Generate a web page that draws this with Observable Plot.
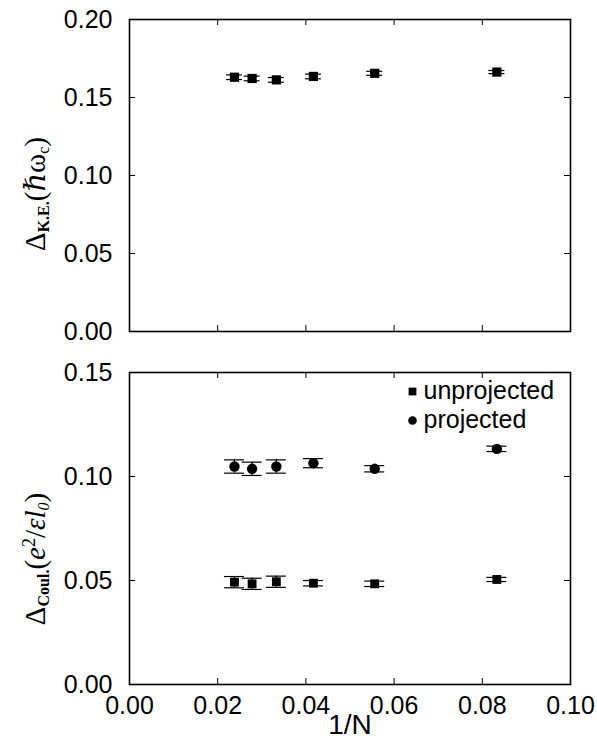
<!DOCTYPE html>
<html><head><meta charset="utf-8">
<script src="https://cdn.jsdelivr.net/npm/d3@7"></script>
<script src="https://cdn.jsdelivr.net/npm/@observablehq/plot@0.6"></script>
<style>
body{margin:0;background:#fff;}
#chart{width:597px;}
#chart svg{display:block;}
</style>
</head><body><div id="chart"></div>
<script>
// 1/N for N = 42, 36, 30, 24, 18, 12
const invN = [0.0238, 0.0278, 0.0333, 0.0417, 0.0556, 0.0833];
const keGap = [0.1630, 0.1622, 0.1613, 0.1635, 0.1655, 0.1663];
const keErr = [0.0015, 0.0015, 0.0015, 0.0015, 0.0013, 0.0010];
const projGap = [0.1048, 0.1037, 0.1048, 0.1064, 0.1037, 0.1133];
const projErr = [0.0032, 0.0032, 0.0032, 0.0022, 0.0015, 0.0013];
const unprojGap = [0.0492, 0.0484, 0.0494, 0.0487, 0.0484, 0.0505];
const unprojErr = [0.0027, 0.0027, 0.0027, 0.0013, 0.0013, 0.0010];
const xTicks = [0, 0.02, 0.04, 0.06, 0.08, 0.10];
const yTicksTop = [0, 0.05, 0.10, 0.15, 0.20];
const yTicksBottom = [0, 0.05, 0.10, 0.15];
const legendLabels = ["unprojected", "projected"];

const rows = (ys, es) => invN.map((x, i) => ({x, y: ys[i], e: es[i]}));
const keData = rows(keGap, keErr);
const projData = rows(projGap, projErr);
const unprojData = rows(unprojGap, unprojErr);

const W = 597, ML = 129, MR = 27;
const pw = W - ML - MR;
const fmt = d3.format(".2f");
const sans = "'Liberation Sans', Arial, Helvetica, sans-serif";
const tickFont = 25;

function boxMarks(ph, yt) {
  return [
    Plot.ruleX(xTicks, {insetTop: ph - 6, stroke: "#000"}),
    Plot.ruleX(xTicks, {insetBottom: ph - 6, stroke: "#000"}),
    Plot.ruleY(yt, {insetRight: pw - 6, stroke: "#000"}),
    Plot.ruleY(yt, {insetLeft: pw - 6, stroke: "#000"}),
    Plot.frame({stroke: "#000", strokeWidth: 1.6})
  ];
}
function errMarks(data, cap) {
  return [
    Plot.ruleX(data, {x: "x", y1: d => d.y - d.e, y2: d => d.y + d.e, stroke: "#000", strokeWidth: 1.2}),
    Plot.ruleY(data, {x1: "x", x2: "x", y: d => d.y + d.e, insetLeft: -cap, insetRight: -cap, stroke: "#000", strokeWidth: 1.2}),
    Plot.ruleY(data, {x1: "x", x2: "x", y: d => d.y - d.e, insetLeft: -cap, insetRight: -cap, stroke: "#000", strokeWidth: 1.2})
  ];
}

// top panel
const topH = 345, topMT = 19, topMB = 14;
const topPlot = Plot.plot({
  width: W, height: topH,
  marginLeft: ML, marginRight: MR, marginTop: topMT, marginBottom: topMB,
  style: {fontFamily: sans, background: "#fff", color: "#000"},
  x: {domain: [0, 0.10], axis: null},
  y: {domain: [0, 0.20]},
  marks: [
    ...boxMarks(topH - topMT - topMB, yTicksTop),
    Plot.axisY(yTicksTop, {tickSize: 0, tickPadding: 17, tickFormat: fmt, fontSize: tickFont, label: null}),
    ...errMarks(keData, 8),
    Plot.dot(keData, {x: "x", y: "y", symbol: "square", r: 5.2, fill: "#000"})
  ]
});

// bottom panel
const botH = 399, botMT = 27, botMB = 60;
const botPlot = Plot.plot({
  width: W, height: botH,
  marginLeft: ML, marginRight: MR, marginTop: botMT, marginBottom: botMB,
  style: {fontFamily: sans, background: "#fff", color: "#000"},
  x: {domain: [0, 0.10]},
  y: {domain: [0, 0.15]},
  marks: [
    ...boxMarks(botH - botMT - botMB, yTicksBottom),
    Plot.axisY(yTicksBottom, {tickSize: 0, tickPadding: 17, tickFormat: fmt, fontSize: tickFont, label: null}),
    Plot.axisX(xTicks, {tickSize: 0, tickPadding: 12, tickFormat: fmt, fontSize: tickFont, label: null}),
    Plot.text(["1/N"], {frameAnchor: "bottom", lineAnchor: "top", dy: 30, fontSize: 28, text: d => d}),
    ...errMarks(projData, 10),
    ...errMarks(unprojData, 10),
    Plot.dot(projData, {x: "x", y: "y", symbol: "circle", r: 5.2, fill: "#000"}),
    Plot.dot(unprojData, {x: "x", y: "y", symbol: "square", r: 5, fill: "#000"}),
    Plot.dot([legendLabels[0]], {frameAnchor: "top-left", dx: 283, dy: 19, symbol: "square", r: 4.4, fill: "#000"}),
    Plot.dot([legendLabels[1]], {frameAnchor: "top-left", dx: 283, dy: 48, symbol: "circle", r: 4.3, fill: "#000"}),
    Plot.text([legendLabels[0]], {frameAnchor: "top-left", lineAnchor: "middle", dx: 294, dy: 18, text: d => d, textAnchor: "start", fontSize: 25}),
    Plot.text([legendLabels[1]], {frameAnchor: "top-left", lineAnchor: "middle", dx: 294, dy: 47, text: d => d, textAnchor: "start", fontSize: 25})
  ]
});

const chart = document.getElementById("chart");
chart.appendChild(topPlot);
chart.appendChild(botPlot);

// rotated y-axis titles with sub/superscripts
const serif = "'Liberation Serif', 'Times New Roman', 'DejaVu Serif', serif";
function yTitle(svg, cx, cy, parts) {
  const t = d3.select(svg).append("text")
    .attr("transform", `translate(${cx},${cy}) rotate(-90)`)
    .attr("text-anchor", "middle")
    .attr("font-family", serif)
    .attr("font-size", 29)
    .attr("fill", "#000");
  for (const p of parts) {
    const s = t.append("tspan").text(p.t);
    if (p.sub) s.attr("font-size", 16).attr("baseline-shift", "-25%");
    if (p.sup) s.attr("font-size", 18).attr("baseline-shift", "55%");
    if (p.bold) s.attr("font-weight", "bold");
    if (p.italic) s.attr("font-style", "italic");
  }
}
yTitle(topPlot, 45, 194, [
  {t: "Δ"}, {t: "K.E.", sub: true, bold: true}, {t: "("}, {t: "ℏ", italic: true}, {t: "ω"}, {t: "c", sub: true}, {t: ")"}
]);
yTitle(botPlot, 45, 214, [
  {t: "Δ"}, {t: "Coul.", sub: true, bold: true}, {t: "("}, {t: "e", italic: true}, {t: "2", sup: true}, {t: "/"},
  {t: "ε", italic: true}, {t: "l", italic: true}, {t: "0", sub: true, italic: true}, {t: ")"}
]);
</script>
</body></html>
